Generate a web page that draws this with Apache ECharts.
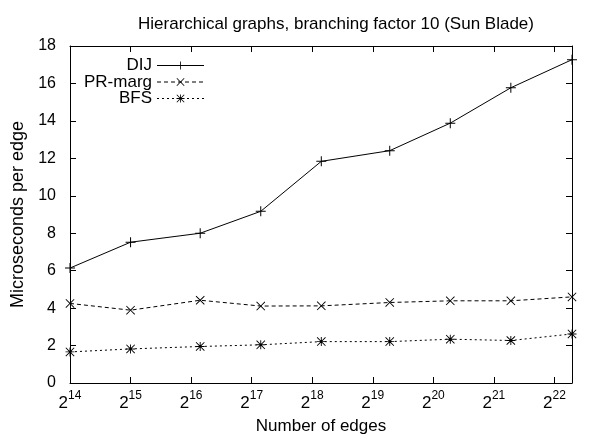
<!DOCTYPE html>
<html>
<head>
<meta charset="utf-8">
<script src="https://cdn.jsdelivr.net/npm/echarts@6/dist/echarts.min.js"></script>
<style>
html,body{margin:0;padding:0;background:#fff;}
#chart{width:599px;height:440px;}
</style>
</head>
<body>
<div id="chart"></div>
<script>
// x values are log2(number of edges)
const xLog2 = [14, 15, 16.15, 17.15, 18.15, 19.28, 20.28, 21.28, 22.29];
const dij = [6.14, 7.52, 8.0, 9.17, 11.84, 12.41, 13.88, 15.77, 17.27];
const prMarg = [4.25, 3.89, 4.42, 4.11, 4.12, 4.30, 4.39, 4.39, 4.60];
const bfs = [1.66, 1.82, 1.95, 2.04, 2.21, 2.21, 2.34, 2.27, 2.62];
const seriesNames = ['DIJ', 'PR-marg', 'BFS'];
const yTicks = [0, 2, 4, 6, 8, 10, 12, 14, 16, 18];
const xTickExps = [14, 15, 16, 17, 18, 19, 20, 21, 22];

const FONT = 'Liberation Sans, Arial, sans-serif';
const plusPath = 'path://M9,0 h2 v9 h9 v2 h-9 v9 h-2 v-9 h-9 v-2 h9 z';
const xPath = 'path://M0,1.4 L1.4,0 L10,8.6 L18.6,0 L20,1.4 L11.4,10 L20,18.6 L18.6,20 L10,11.4 L1.4,20 L0,18.6 L8.6,10 z';
const starPath = 'path://M9,0 h2 v9 h9 v2 h-9 v9 h-2 v-9 h-9 v-2 h9 z M0,1.4 L1.4,0 L10,8.6 L18.6,0 L20,1.4 L11.4,10 L20,18.6 L18.6,20 L10,11.4 L1.4,20 L0,18.6 L8.6,10 z';

function pairs(ys){ return xLog2.map((x,i)=>[x, ys[i]]); }

const chart = echarts.init(document.getElementById('chart'), null, {renderer:'canvas'});
const axisCommon = {
  axisLine:{show:true, onZero:false, lineStyle:{color:'#000', width:1}},
  axisTick:{show:true, inside:true, length:6, lineStyle:{color:'#000', width:1}},
  splitLine:{show:false}
};
const xMin = xLog2[0], xMax = xLog2[xLog2.length-1];
const option = {
  animation:false,
  backgroundColor:'#fff',
  title:{
    text:'Hierarchical graphs, branching factor 10 (Sun Blade)',
    left:331, top:11, textAlign:'center',
    textStyle:{fontFamily:FONT, fontSize:17, fontWeight:'normal', color:'#000'}
  },
  grid:{left:70, right:27, top:46, bottom:55, containLabel:false},
  legend:{
    orient:'vertical', left:79, top:52, align:'right',
    itemWidth:47, itemHeight:10, itemGap:-0.5,
    lineStyle:{width:1},
    textStyle:{fontFamily:FONT, fontSize:17, color:'#000', lineHeight:14},
    data:seriesNames
  },
  xAxis:[
    Object.assign({}, axisCommon, {
      type:'value', min:xMin, max:xMax, interval:1, position:'bottom',
      name:'Number of edges', nameLocation:'middle', nameGap:35,
      nameTextStyle:{fontFamily:FONT, fontSize:17, color:'#000'},
      axisLabel:{
        showMaxLabel:false, margin:7,
        formatter:function(v){ return Number.isInteger(v) && xTickExps.indexOf(v)>=0 ? '{b|2}{s|'+v+'}' : ''; },
        rich:{
          b:{fontFamily:FONT, fontSize:17, color:'#000', verticalAlign:'bottom', lineHeight:22},
          s:{fontFamily:FONT, fontSize:12, color:'#000', verticalAlign:'top', padding:[0,0,11,0], lineHeight:22}
        }
      }
    }),
    Object.assign({}, axisCommon, {
      type:'value', min:xMin, max:xMax, interval:1, position:'top',
      axisLabel:{show:false}
    })
  ],
  yAxis:[
    Object.assign({}, axisCommon, {
      type:'value', min:yTicks[0], max:yTicks[yTicks.length-1], interval:2, position:'left',
      name:'Microseconds per edge', nameLocation:'middle', nameGap:40, nameRotate:90,
      nameTextStyle:{fontFamily:FONT, fontSize:18, color:'#000'},
      axisLabel:{fontFamily:FONT, fontSize:16, color:'#000', margin:14}
    }),
    Object.assign({}, axisCommon, {
      type:'value', min:yTicks[0], max:yTicks[yTicks.length-1], interval:2, position:'right',
      axisLabel:{show:false}
    })
  ],
  series:[
    {name:'DIJ', type:'line', data:pairs(dij), symbol:plusPath, symbolSize:10,
     itemStyle:{color:'#000'}, lineStyle:{color:'#000', width:1, type:'solid'}},
    {name:'PR-marg', type:'line', data:pairs(prMarg), symbol:xPath, symbolSize:9,
     itemStyle:{color:'#000'}, lineStyle:{color:'#000', width:1, type:[4,3]}},
    {name:'BFS', type:'line', data:pairs(bfs), symbol:starPath, symbolSize:9,
     itemStyle:{color:'#000'}, lineStyle:{color:'#000', width:1, type:[2,3]}}
  ]
};
chart.setOption(option);
</script>
</body>
</html>
